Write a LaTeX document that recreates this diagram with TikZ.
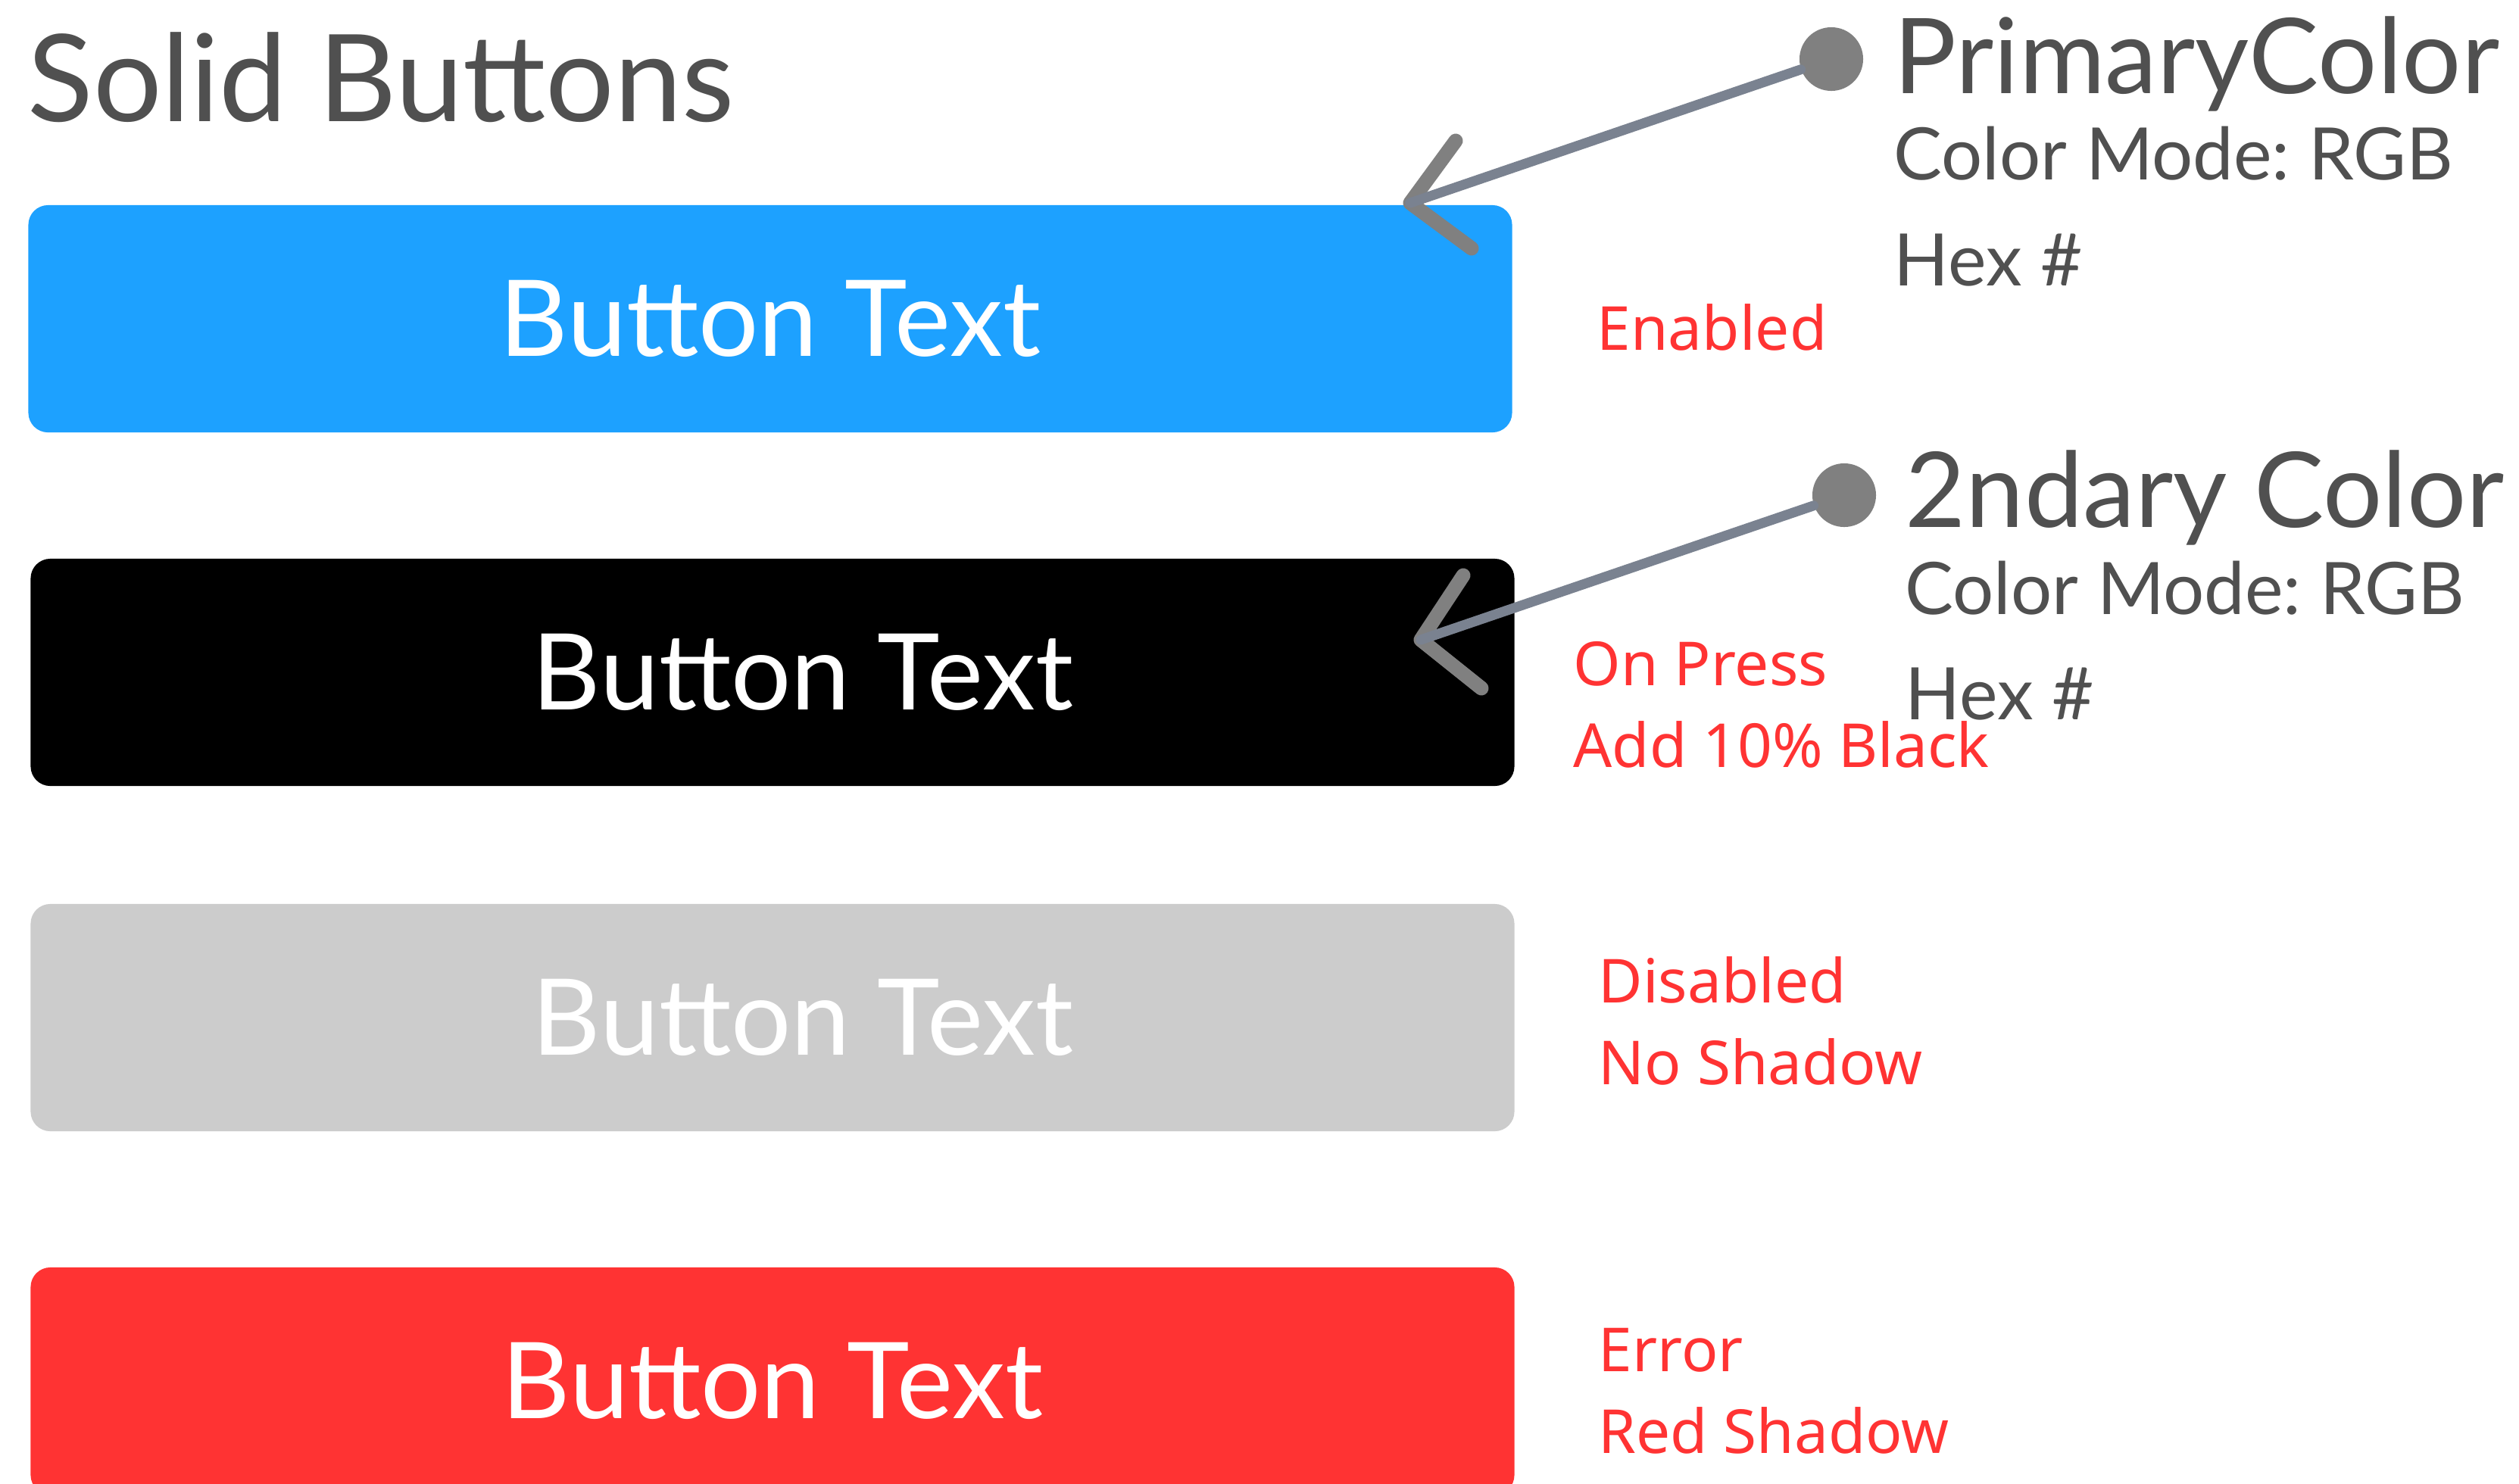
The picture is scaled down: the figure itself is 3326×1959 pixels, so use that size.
\documentclass[tikz,border=0pt]{standalone}
\usepackage{fontspec}
\setmainfont{Lato}
\newfontfamily\notefont{Noto Sans}
\usepackage{tikz}
\usetikzlibrary{calc}
\frenchspacing
\definecolor{btnblue} {RGB}{29,161,255}
\definecolor{btngray} {RGB}{204,204,204}
\definecolor{btnred}  {RGB}{255,51,51}
\definecolor{inkgray} {RGB}{80,80,80}
\definecolor{linegray}{RGB}{122,130,144}
\definecolor{dotgray} {RGB}{128,128,128}
\tikzset{
  btnbox/.style   ={rounded corners=0.26cm, minimum width=19.58cm,
                    minimum height=3cm, inner sep=0pt},
  btnlabel/.style ={font=\fontsize{39.8}{46}\selectfont, text=white,
                    inner sep=0pt},
  titletext/.style={font=\fontsize{45.5}{54}\selectfont, text=inkgray,
                    anchor=base west, inner sep=0pt},
  colorname/.style={font=\fontsize{39.3}{47}\selectfont, text=inkgray,
                    anchor=base west, inner sep=0pt},
  colorinfo/.style={font=\fontsize{27.2}{33}\selectfont, text=inkgray,
                    anchor=base west, inner sep=0pt},
  notetext/.style ={font=\notefont\fontsize{22.8}{30.7}\selectfont,
                    text=btnred, align=left, anchor=base west, inner sep=0pt},
  dotmark/.style  ={circle, fill=dotgray, minimum size=0.84cm, inner sep=0pt},
  pointer/.style  ={line width=0.13cm, draw=linegray, line cap=round},
  chevron/.style  ={line width=0.19cm, draw=dotgray, line cap=round,
                    line join=round},
}
\begin{document}
\begin{tikzpicture}[x=0.01cm, y=-0.01cm]
  \clip (0,0) rectangle (3326,1959);
  \fill[white] (0,0) rectangle (3326,1959);
  \node[titletext] (title) at (36,160) {Solid Buttons};
  %% buttons
  \node[btnbox, fill=btnblue] (btnA) at (1017,421)  {};
  \node[btnbox, fill=black]   (btnB) at (1020,888)  {};
  \node[btnbox, fill=btngray] (btnC) at (1020,1344) {};
  \node[btnbox, fill=btnred]  (btnD) at (1020,1824) {};
  \node[btnlabel] (txtA) at (btnA) {Button Text};
  \node[btnlabel] (txtB) at ($(btnB)+(40,0)$) {Button Text};
  \node[btnlabel] (txtC) at ($(btnC)+(40,0)$) {Button Text};
  \node[btnlabel] (txtD) at (btnD) {Button Text};
  %% state notes (base = last line)
  \node[notetext] (noteA) at (2108,462)  {Enabled};
  \node[notetext] (noteB) at (2077,1013) {On Press\\Add 10\% Black};
  \node[notetext] (noteC) at (2110,1432) {Disabled\\No Shadow};
  \node[notetext] (noteD) at (2110,1919) {Error\\Red Shadow};
  %% colour callouts
  \node[colorname] (nameA) at (2500,123) {PrimaryColor};
  \node[colorinfo] (modeA) at (2500,237) {Color Mode: RGB};
  \node[colorinfo] (hexA)  at (2500,377) {Hex \#};
  \node[colorname] (nameB) at (2515,696) {2ndary Color};
  \node[colorinfo] (modeB) at (2515,811) {Color Mode: RGB};
  \node[colorinfo] (hexB)  at (2515,950) {Hex \#};
  \node[dotmark] (dotA) at (2418,78)  {};
  \node[dotmark] (dotB) at (2435,654) {};
  \coordinate (tipA) at (1862,268);
  \coordinate (tipB) at (1876,845);
  \draw[chevron] ($(tipA)+(60,-82)$) -- (tipA) -- ($(tipA)+(81,60)$);
  \draw[chevron] ($(tipB)+(56,-85)$) -- (tipB) -- ($(tipB)+(80,64)$);
  \draw[pointer] (dotA) -- (tipA);
  \draw[pointer] (dotB) -- (tipB);
\end{tikzpicture}
\end{document}
